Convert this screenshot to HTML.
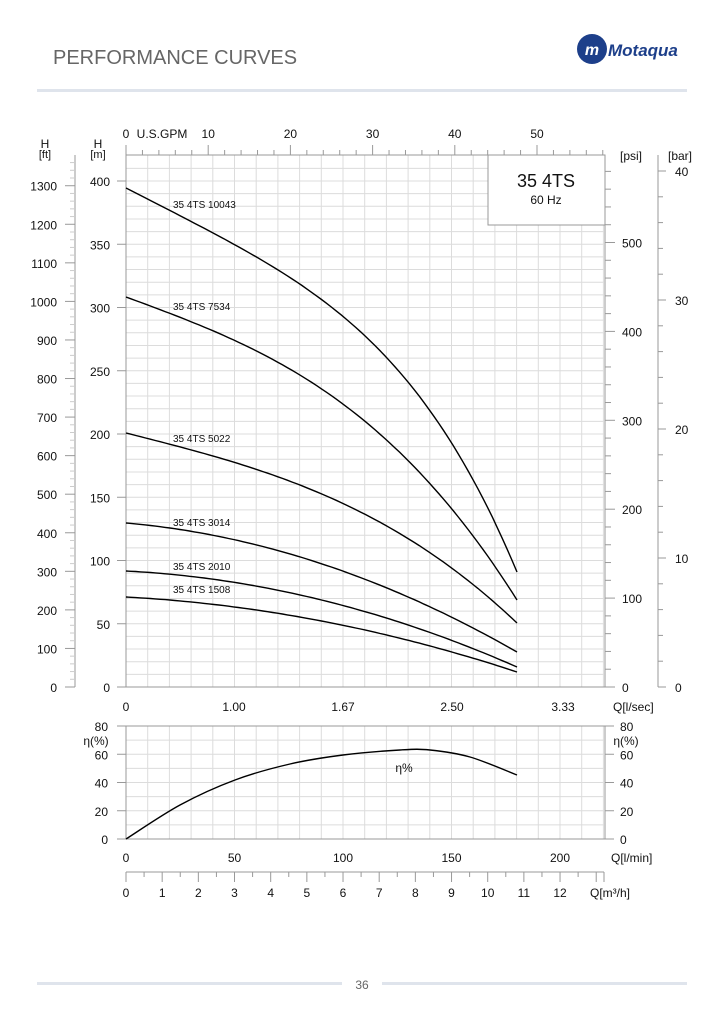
<!DOCTYPE html>
<html><head><meta charset="utf-8"><style>
body{margin:0;background:#fff;width:724px;height:1024px;overflow:hidden;font-family:"Liberation Sans",Arial,sans-serif}
svg text{font-family:"Liberation Sans",Arial,sans-serif}
</style></head><body>
<svg id="s" width="724" height="1024" viewBox="0 0 724 1024" xmlns="http://www.w3.org/2000/svg">
<text x="53" y="64" font-size="20" fill="#666">PERFORMANCE CURVES</text>
<rect x="37" y="89" width="650" height="3" fill="#dfe4ec"/>
<g transform="translate(576,33)">
<circle cx="16" cy="16" r="15" fill="#1d3f8a"/>
<text x="16" y="22" font-size="16" font-weight="bold" fill="#fff" text-anchor="middle" font-style="italic">m</text>
<text x="32" y="23" font-size="17" font-weight="bold" fill="#1d3f8a" font-style="italic">Motaqua</text>
</g>
<g id="grid" stroke="#dcdcdc" stroke-width="1"></g>
<g id="ax" stroke="#999" stroke-width="1" fill="none"></g>
<g id="mn" stroke="#ccc" stroke-width="1" fill="none"></g>
<g id="tx" font-size="12" fill="#111"></g>
<g id="cv" fill="none" stroke="#000" stroke-width="1.4"></g>
<g font-size="10" fill="#111">
<text x="173" y="208">35 4TS 10043</text>
<text x="173" y="310">35 4TS 7534</text>
<text x="173" y="442">35 4TS 5022</text>
<text x="173" y="526">35 4TS 3014</text>
<text x="173" y="570">35 4TS 2010</text>
<text x="173" y="593">35 4TS 1508</text>
</g>
<text x="404" y="772" font-size="12" fill="#111" text-anchor="middle">η%</text>
<rect x="488" y="155" width="117" height="70" fill="#fff" stroke="#999"/>
<text x="546" y="187" font-size="18" text-anchor="middle" fill="#111">35 4TS</text>
<text x="546" y="204" font-size="12" text-anchor="middle" fill="#111">60 Hz</text>
<rect x="37" y="982" width="305" height="3" fill="#dfe4ec"/>
<rect x="382" y="982" width="305" height="3" fill="#dfe4ec"/>
<text x="362" y="989" font-size="12" fill="#666" text-anchor="middle">36</text>
</svg>
<script>
var NS="http://www.w3.org/2000/svg";
function el(p,t,a,txt){var e=document.createElementNS(NS,t);for(var k in a)e.setAttribute(k,a[k]);if(txt!==undefined)e.textContent=txt;document.getElementById(p).appendChild(e);return e;}
function L(p,x1,y1,x2,y2){el(p,'line',{x1:x1,y1:y1,x2:x2,y2:y2});}
function T(x,y,s,anc,fs){el('tx','text',{x:x,y:y,'text-anchor':anc||'middle','font-size':fs||12},s);}
function CR(P){var d='M'+P[0][0]+','+P[0][1];for(var i=0;i<P.length-1;i++){var p0=P[i-1]||P[i],p1=P[i],p2=P[i+1],p3=P[i+2]||P[i+1];
d+=' C'+(p1[0]+(p2[0]-p0[0])/6)+','+(p1[1]+(p2[1]-p0[1])/6)+' '+(p2[0]-(p3[0]-p1[0])/6)+','+(p2[1]-(p3[1]-p1[1])/6)+' '+p2[0]+','+p2[1];}return d;}
var X0=126,XR=604,px=2.17;
for(var x=X0+21.7;x<XR;x+=21.7){L('grid',x,155,x,687);L('grid',x,726,x,839);}
for(var y=687-12.65;y>156;y-=12.65)L('grid',X0,y,XR,y);
for(var y=839-14.125;y>727;y-=14.125)L('grid',X0,y,XR,y);
L('ax',X0,155,X0,687);L('ax',XR+1,155,XR+1,687);L('ax',X0,155,XR+1,155);L('ax',X0,687,XR+1,687);
L('ax',X0,726,X0,839);L('ax',XR+1,726,XR+1,839);L('ax',X0,726,XR+1,726);L('ax',X0,839,XR+1,839);
for(var h=0;h<=400;h+=50){var y=687-h*1.265;L('ax',117,y,X0,y);T(110,y+5,h,'end');}
T(98,148,'H');T(98,158,'[m]','middle',11);
L('ax',75,155,75,687);
for(var f=0;f<=1360;f+=20){var y=687-f*0.3856;if(y<156)break;if(f%100==0){L('ax',65,y,75,y);T(57,y+5,f,'end');}else L('mn',70,y,75,y);}
T(45,148,'H');T(45,158,'[ft]','middle',11);
for(var g=0;g<=58;g+=2){var x=X0+g*8.22;if(x>XR)break;L('ax',x,155,x,g%10==0?145:150);}
T(126,138,'0');T(162,138,'U.S.GPM');[10,20,30,40,50].forEach(function(g){T(X0+g*8.22,138,g);});
for(var p=0;p<=580;p+=20){var y=687-p*0.889;if(y<156)break;L('ax',605,y,p%100==0?615:611,y);if(p%100==0)T(622,y+5,p,'start');}
T(620,160,'[psi]','start');
L('ax',658,155,658,687);
for(var b=0;b<=40;b+=2){var y=687-b*12.9;L('ax',658,y,b%10==0?666:663,y);if(b%10==0)T(675,y+5,b,'start');}
T(668,160,'[bar]','start');
[['0',126],['1.00',234],['1.67',343],['2.50',452],['3.33',563]].forEach(function(a){T(a[1],711,a[0]);});
T(613,711,'Q[l/sec]','start');
for(var e=0;e<=80;e+=20){var y=839-e*1.4125;L('ax',117,y,X0,y);L('ax',605,y,614,y);T(108,y+5,e,'end');T(620,y+5,e,'start');}
T(96,745,'η(%)');T(626,745,'η(%)');
for(var q=0;q<=200;q+=50){var x=X0+q*px;T(x,862,q);}
T(611,862,'Q[l/min]','start');
L('ax',X0,872,XR,872);
for(var m=0;m<=13;m+=0.5){var x=X0+m*36.17;if(x>XR+1)break;L('ax',x,872,x,m%1==0?882:877);if(m%1==0&&m<=12)T(x,897,m);}
L('ax',XR,872,XR,882);
el('tx','text',{x:590,y:897,'text-anchor':'start'},'Q[m³/h]');
// pump curves: y = y0 + A t + B t^p, t in [0,1] over x 126..517
var F=[[188,200,184,4],[297,144,159,3],[433,99,91,3],[523,34,95,2],[571,20,76,2],[597,21,54,2]];
F.forEach(function(f){var d='';for(var i=0;i<=80;i++){var t=i/80,x=126+391*t,y=f[0]+f[1]*t+f[2]*Math.pow(t,f[3]);d+=(i?'L':'M')+x.toFixed(1)+','+y.toFixed(1);}el('cv','path',{d:d});});
el('cv','path',{d:CR([[126,839],[180,805],[235,780],[290,764],[343,755],[400,750],[430,750],[470,757],[517,775]])});
</script>
</body></html>
